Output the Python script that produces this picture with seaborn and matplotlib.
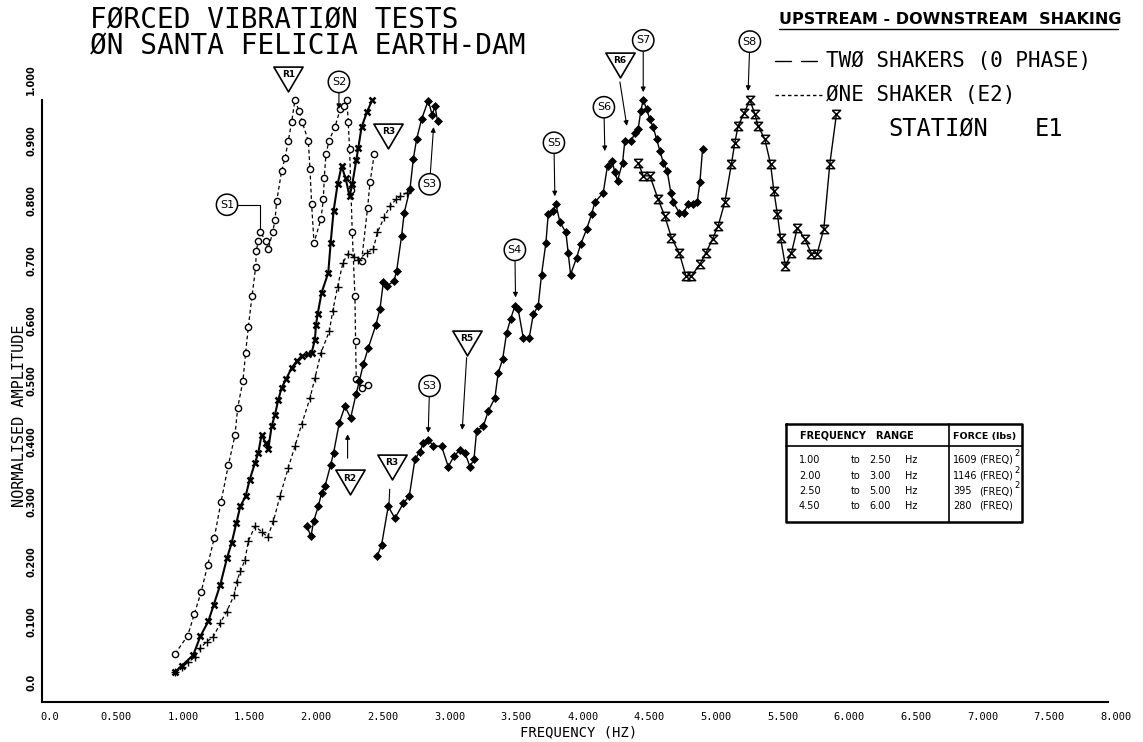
import matplotlib
matplotlib.use("Agg")
import matplotlib.pyplot as plt
import pandas as pd
import seaborn as sns
from matplotlib.path import Path
from matplotlib.lines import Line2D
from matplotlib.transforms import ScaledTranslation

# ---- response curves: frequency (Hz) and normalised amplitude ----
# one shaker (E2), circle symbols
one_a_hz = [1.00, 1.095, 1.145, 1.195, 1.245, 1.295, 1.345, 1.40, 1.45, 1.47, 1.51, 1.53,
            1.55, 1.578, 1.605, 1.61, 1.625, 1.64, 1.68, 1.70, 1.733, 1.75, 1.763, 1.80,
            1.825, 1.85, 1.875, 1.90, 1.933, 1.955, 2.00, 2.013, 2.025, 2.043, 2.095, 2.113,
            2.12, 2.133, 2.155, 2.20, 2.24, 2.27, 2.29, 2.30, 2.31, 2.32, 2.33, 2.35, 2.355,
            2.36, 2.40, 2.45]
one_a_amp = [0.080, 0.110, 0.146, 0.182, 0.227, 0.273, 0.332, 0.393, 0.443, 0.488, 0.534, 0.580,
             0.623, 0.674, 0.722, 0.749, 0.766, 0.781, 0.766, 0.752, 0.781, 0.800, 0.832, 0.882,
             0.903, 0.932, 0.963, 1.000, 0.981, 0.963, 0.932, 0.885, 0.827, 0.763, 0.802, 0.835,
             0.871, 0.910, 0.932, 0.955, 0.985, 0.990, 1.000, 0.963, 0.918, 0.850, 0.780, 0.674,
             0.600, 0.536, 0.522, 0.527]
one_b_hz = [2.40, 2.445, 2.463, 2.495]
one_b_amp = [0.733, 0.821, 0.863, 0.910]

# one shaker (E2), plus symbols
one_c_hz = [1.00, 1.05, 1.10, 1.15, 1.19, 1.237, 1.287, 1.34, 1.387, 1.445, 1.463, 1.49,
            1.525, 1.55, 1.60, 1.65, 1.695, 1.738, 1.788, 1.85, 1.90, 1.95, 2.013, 2.05,
            2.095, 2.158, 2.183, 2.22, 2.26, 2.30, 2.34, 2.375, 2.437, 2.488, 2.518, 2.57,
            2.613, 2.66, 2.69, 2.738]
one_c_amp = [0.050, 0.058, 0.066, 0.075, 0.090, 0.100, 0.108, 0.131, 0.150, 0.178, 0.200, 0.217,
             0.236, 0.267, 0.292, 0.283, 0.274, 0.300, 0.342, 0.389, 0.425, 0.461, 0.505, 0.538,
             0.580, 0.616, 0.649, 0.690, 0.730, 0.745, 0.740, 0.735, 0.746, 0.752, 0.780, 0.805,
             0.824, 0.835, 0.840, 0.846]

# two shakers (0 phase), 1.00 to 2.50 Hz
two_a_hz = [1.00, 1.05, 1.137, 1.19, 1.25, 1.29, 1.34, 1.39, 1.425, 1.46, 1.49, 1.53, 1.56,
            1.60, 1.625, 1.65, 1.68, 1.70, 1.725, 1.75, 1.775, 1.80, 1.833, 1.875, 1.913,
            1.95, 2.00, 2.025, 2.05, 2.058, 2.07, 2.10, 2.15, 2.168, 2.19, 2.22, 2.25, 2.28,
            2.31, 2.33, 2.36, 2.375, 2.40, 2.44, 2.48]
two_a_amp = [0.050, 0.060, 0.078, 0.109, 0.134, 0.161, 0.195, 0.239, 0.264, 0.297, 0.325, 0.342,
             0.369, 0.397, 0.414, 0.444, 0.430, 0.420, 0.458, 0.477, 0.502, 0.522, 0.536, 0.555,
             0.566, 0.575, 0.578, 0.580, 0.602, 0.627, 0.644, 0.680, 0.713, 0.763, 0.816, 0.860,
             0.890, 0.870, 0.840, 0.860, 0.900, 0.920, 0.955, 0.980, 1.000]

# two shakers (0 phase), 2.00 to 3.00 Hz
two_b_hz = [1.99, 2.02, 2.04, 2.075, 2.10, 2.125, 2.168, 2.19, 2.233, 2.275, 2.318, 2.358,
            2.383, 2.413, 2.45, 2.508, 2.538, 2.563, 2.588, 2.643, 2.663, 2.70, 2.72, 2.763,
            2.788, 2.813, 2.85, 2.90, 2.93, 2.95, 2.97]
two_b_amp = [0.292, 0.275, 0.300, 0.325, 0.347, 0.358, 0.394, 0.414, 0.464, 0.491, 0.472, 0.511,
             0.533, 0.561, 0.588, 0.627, 0.653, 0.697, 0.691, 0.699, 0.716, 0.774, 0.813, 0.852,
             0.902, 0.935, 0.968, 0.999, 0.975, 0.990, 0.965]

# two shakers (0 phase), 2.50 to 5.00 Hz
two_c_hz = [2.518, 2.55, 2.60, 2.65, 2.713, 2.758, 2.80, 2.838, 2.863, 2.90, 2.938, 3.00,
            3.05, 3.093, 3.138, 3.175, 3.213, 3.243, 3.263, 3.313, 3.35, 3.40, 3.425, 3.458,
            3.488, 3.518, 3.55, 3.575, 3.613, 3.658, 3.688, 3.725, 3.75, 3.783, 3.80, 3.838,
            3.858, 3.888, 3.933, 3.95, 3.968, 4.013, 4.043, 4.088, 4.125, 4.15, 4.213, 4.245,
            4.28, 4.30, 4.32, 4.358, 4.375, 4.425, 4.45, 4.475, 4.495, 4.513, 4.538, 4.563,
            4.588, 4.613, 4.638, 4.663, 4.693, 4.72, 4.738, 4.783, 4.818, 4.85, 4.888, 4.918,
            4.938, 4.958]
two_c_amp = [0.243, 0.261, 0.325, 0.305, 0.330, 0.342, 0.403, 0.416, 0.430, 0.436, 0.425, 0.425,
             0.391, 0.408, 0.419, 0.414, 0.391, 0.403, 0.450, 0.458, 0.483, 0.505, 0.547, 0.569,
             0.613, 0.636, 0.658, 0.652, 0.605, 0.605, 0.644, 0.658, 0.710, 0.763, 0.810, 0.816,
             0.827, 0.797, 0.780, 0.746, 0.710, 0.738, 0.760, 0.785, 0.810, 0.830, 0.846, 0.891,
             0.898, 0.880, 0.866, 0.896, 0.932, 0.932, 0.946, 0.952, 0.982, 1.000, 0.985, 0.968,
             0.955, 0.935, 0.916, 0.896, 0.882, 0.846, 0.830, 0.813, 0.813, 0.827, 0.827, 0.830,
             0.863, 0.918]

# two shakers (0 phase), 4.50 to 6.00 Hz
two_d_hz = [4.475, 4.513, 4.563, 4.625, 4.675, 4.725, 4.783, 4.833, 4.875, 4.938, 4.983, 5.033,
            5.075, 5.125, 5.175, 5.20, 5.225, 5.27, 5.313, 5.35, 5.375, 5.425, 5.468, 5.493,
            5.52, 5.543, 5.58, 5.625, 5.67, 5.725, 5.775, 5.818, 5.868, 5.913, 5.963]
two_d_amp = [0.896, 0.874, 0.874, 0.835, 0.807, 0.771, 0.746, 0.708, 0.708, 0.727, 0.746, 0.769,
             0.791, 0.830, 0.894, 0.929, 0.957, 0.978, 1.000, 0.977, 0.957, 0.935, 0.894, 0.849,
             0.810, 0.771, 0.724, 0.746, 0.788, 0.769, 0.745, 0.745, 0.786, 0.894, 0.977]

# resonance markers: circles (S) and triangles (R)
s_labels = ["S1", "S2", "S3", "S3", "S4", "S5", "S6", "S7", "S8"]
s_text_at = [(1.39, 0.826), (2.23, 1.030), (2.91, 0.860), (2.91, 0.525), (3.55, 0.751),
             (3.843, 0.929), (4.218, 0.988), (4.513, 1.099), (5.313, 1.097)]
s_point_at = [(1.64, 0.785), (2.23, 0.985), (2.94, 0.955), (2.90, 0.447), (3.555, 0.672),
              (3.85, 0.840), (4.225, 0.915), (4.513, 1.013), (5.30, 1.015)]
r_labels = ["R1", "R2", "R3", "R3", "R5", "R6"]
r_text_at = [(1.85, 1.035), (2.31, 0.365), (2.60, 0.940), (2.625, 0.391), (3.19, 0.597),
             (4.338, 1.058)]

# test table
table_freq = [("1.00", "2.50"), ("2.00", "3.00"), ("2.50", "5.00"), ("4.50", "6.00")]
table_force = ["1609", "1146", "395", "280"]
table_power = ["2", "2", "2", ""]

x_ticks = [i * 0.5 for i in range(17)]
y_ticks = [i * 0.1 for i in range(11)]
x_tick_labels = ["0.0"] + [f"{v:.3f}" for v in x_ticks[1:]]
y_tick_labels = ["0.0"] + [f"{v:.3f}" for v in y_ticks[1:]]

sns.set_theme(style="white")
plt.rcParams["font.family"] = ["DejaVu Sans Mono", "DejaVu Sans"]
plt.rcParams["text.color"] = "black"
plt.rcParams["axes.labelcolor"] = "black"

W, H, DPI = 1143, 742, 100
fig = plt.figure(figsize=(W / DPI, H / DPI), dpi=DPI)
fig.patch.set_facecolor("white")
ax = fig.add_axes([41.7 / W, 40 / H, 1066.3 / W, 602 / H])
ax.set_facecolor("white")

hourglass = Path([(-1, 1), (1, 1), (-1, -1), (1, -1), (-1, 1)],
                 [Path.MOVETO, Path.LINETO, Path.LINETO, Path.LINETO, Path.LINETO])
dashed = (0, (3, 2.2))


def curve(hz, amp, **style):
    df = pd.DataFrame({"hz": hz, "amp": amp})
    sns.lineplot(data=df, x="hz", y="amp", sort=False, estimator=None, ax=ax,
                 color="black", legend=False, clip_on=False, **style)


curve(one_a_hz, one_a_amp, linestyle=dashed, linewidth=0.9, marker="o", markersize=4.5,
      markerfacecolor="white", markeredgecolor="black", markeredgewidth=1.0)
curve(one_b_hz, one_b_amp, linestyle=dashed, linewidth=0.9, marker="o", markersize=4.5,
      markerfacecolor="white", markeredgecolor="black", markeredgewidth=1.0)
curve(one_c_hz, one_c_amp, linestyle=dashed, linewidth=0.9, marker="+", markersize=5.5,
      markeredgecolor="black", markeredgewidth=1.0)
curve(two_a_hz, two_a_amp, linewidth=1.5, marker="x", markersize=5,
      markeredgecolor="black", markeredgewidth=1.8)
curve(two_b_hz, two_b_amp, linewidth=1.0, marker="D", markersize=3.6,
      markerfacecolor="black", markeredgecolor="black", markeredgewidth=0.5)
curve(two_c_hz, two_c_amp, linewidth=1.0, marker="D", markersize=3.6,
      markerfacecolor="black", markeredgecolor="black", markeredgewidth=0.5)
curve(two_d_hz, two_d_amp, linewidth=1.0, marker=hourglass, markersize=6,
      markerfacecolor="none", markeredgecolor="black", markeredgewidth=1.1)

ax.set_xlim(0, 8)
ax.set_ylim(0, 1.0)
ax.set_xlabel("")
ax.set_ylabel("")
for side in ("top", "right"):
    ax.spines[side].set_visible(False)
for side in ("left", "bottom"):
    ax.spines[side].set_color("black")
    ax.spines[side].set_linewidth(1.5)

ax.set_xticks(x_ticks)
ax.set_xticklabels(x_tick_labels, fontsize=7.5, family="DejaVu Sans Mono")
ax.set_yticks(y_ticks)
ax.set_yticklabels(y_tick_labels, fontsize=7, family="DejaVu Sans", weight="bold", rotation=90)
ax.tick_params(axis="both", direction="in", length=9, width=1.2, colors="black")
ax.tick_params(axis="x", pad=7)
ax.tick_params(axis="y", pad=4)
for tick in ax.yaxis.get_major_ticks():
    tick.label1.set_transform(tick.label1.get_transform()
                              + ScaledTranslation(0, 0.20, fig.dpi_scale_trans))
    tick.label1.set_verticalalignment("center")
for tick in ax.xaxis.get_major_ticks():
    tick.label1.set_transform(tick.label1.get_transform()
                              + ScaledTranslation(0.08, 0, fig.dpi_scale_trans))

# circled S labels with arrows
arrow_kw = dict(arrowstyle="-|>", color="black", lw=0.8, mutation_scale=7, shrinkA=0, shrinkB=0)
for lab, (tx, ty), (px, py) in zip(s_labels, s_text_at, s_point_at):
    props = dict(arrow_kw)
    if lab == "S1":
        props = dict(arrowstyle="-", color="black", lw=0.8, shrinkA=0, shrinkB=0,
                     connectionstyle="angle,angleA=0,angleB=90,rad=0")
    ax.annotate(lab, xy=(px, py), xytext=(tx, ty), ha="center", va="center",
                fontsize=8, family="DejaVu Sans", annotation_clip=False,
                bbox=dict(boxstyle="circle,pad=0.32", fc="white", ec="black", lw=1.1),
                arrowprops=props)

# triangular R labels
tri = Path([(-1, 0.85), (1, 0.85), (0, -0.85), (-1, 0.85)],
           [Path.MOVETO, Path.LINETO, Path.LINETO, Path.CLOSEPOLY])
for lab, (tx, ty) in zip(r_labels, r_text_at):
    ax.plot([tx], [ty], marker=tri, markersize=21, markerfacecolor="white",
            markeredgecolor="black", markeredgewidth=1.2, clip_on=False, zorder=5)
    ax.annotate(lab, xy=(tx, ty), xytext=(0, 3), textcoords="offset points",
                ha="center", va="center", fontsize=6.5, family="DejaVu Sans",
                weight="bold", annotation_clip=False, zorder=6)

ax.annotate("", xy=(2.295, 0.445), xytext=(2.295, 0.405), arrowprops=arrow_kw,
            annotation_clip=False)
ax.annotate("", xy=(2.605, 0.325), xytext=(2.612, 0.358),
            arrowprops=dict(arrowstyle="-", color="black", lw=0.8), annotation_clip=False)
ax.annotate("", xy=(3.155, 0.452), xytext=(3.188, 0.572), arrowprops=arrow_kw,
            annotation_clip=False)
ax.annotate("", xy=(4.39, 0.957), xytext=(4.338, 1.030), arrowprops=arrow_kw,
            annotation_clip=False)


def ftext(x, y, s, **kw):
    return fig.text(x / W, 1 - y / H, s, **kw)


def fline(xs, ys, **kw):
    fig.add_artist(Line2D([x / W for x in xs], [1 - y / H for y in ys], color="black", **kw))


# titles and axis labels
ftext(90, 20, "FØRCED VIBRATIØN TESTS", fontsize=20, va="center", ha="left")
ftext(90, 46, "ØN SANTA FELICIA EARTH-DAM", fontsize=20, va="center", ha="left")
ftext(579, 732, "FREQUENCY (HZ)", fontsize=10, va="center", ha="center")
ftext(20, 416, "NORMALISED AMPLITUDE", fontsize=11, va="center", ha="center", rotation=90)

# key
ftext(779, 20, "UPSTREAM - DOWNSTREAM  SHAKING", fontsize=11.5, va="center", ha="left",
      family="DejaVu Sans", weight="bold")
fline([779, 1118], [29, 29], lw=1.0)
fline([775, 791], [61, 61], lw=1.0)
fline([801, 817], [61, 61], lw=1.0)
ftext(826, 61, "TWØ SHAKERS (0 PHASE)", fontsize=15, va="center", ha="left")
fline([775, 822], [95, 95], lw=1.0, linestyle=(0, (2.5, 2)))
ftext(826, 95, "ØNE SHAKER (E2)", fontsize=15, va="center", ha="left")
ftext(888, 129, "STATIØN", fontsize=17, va="center", ha="left")
ftext(1035, 129, "E1", fontsize=17, va="center", ha="left")

# table of test ranges and forcing
fline([786, 1022, 1022, 786, 786], [424, 424, 522, 522, 424], lw=1.8)
fline([786, 1022], [446, 446], lw=1.2)
fline([949, 949], [424, 522], lw=1.2)
tkw = dict(fontsize=7, family="DejaVu Sans", va="center", ha="left")
ftext(800, 436, "FREQUENCY   RANGE", weight="bold", **tkw)
ftext(985, 436, "FORCE (lbs)", weight="bold", fontsize=6.8, family="DejaVu Sans",
      va="center", ha="center")
row_y = [460, 476, 491, 506]
for (lo, hi), force, pw, y in zip(table_freq, table_force, table_power, row_y):
    ftext(799, y, lo, **tkw)
    ftext(851, y, "to", **tkw)
    ftext(869, y, hi, **tkw)
    ftext(905, y, "Hz", **tkw)
    ftext(953, y, force, **tkw)
    ftext(979, y, "(FREQ)", **tkw)
    if pw:
        ftext(1014, y - 6, pw, fontsize=6, family="DejaVu Sans", va="center", ha="left")

fig.savefig("out.png", dpi=DPI, facecolor="white")
